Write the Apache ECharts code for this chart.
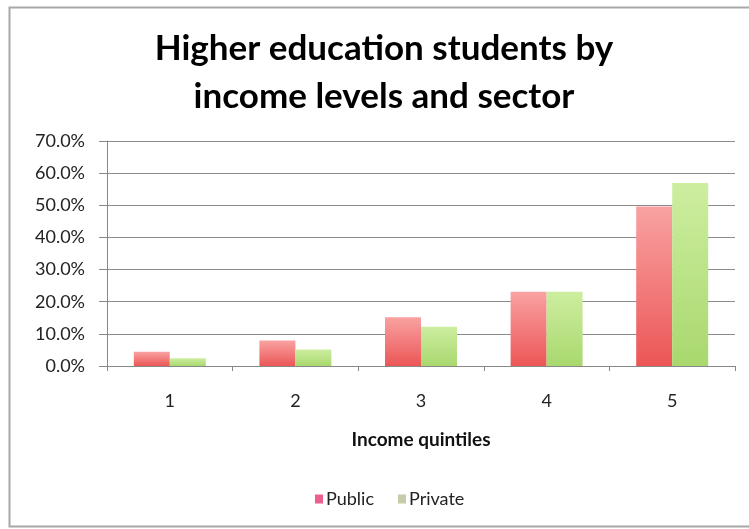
<!DOCTYPE html>
<html>
<head>
<meta charset="utf-8">
<script src="https://cdn.jsdelivr.net/npm/echarts@6/dist/echarts.min.js"></script>
<style>html,body{margin:0;padding:0;background:#fff}#c{width:749px;height:529px}</style>
</head>
<body>
<div id="c"></div>
<script>
const titleText = 'Higher education students by\nincome levels and sector';
const categories = ['1', '2', '3', '4', '5'];
const publicValues = [4.4, 7.9, 15.2, 23.1, 49.6];
const privateValues = [2.4, 5.1, 12.2, 23.1, 56.9];
const yTicks = [0, 10, 20, 30, 40, 50, 60, 70];
const xAxisName = 'Income quintiles';
const seriesNames = ['Public', 'Private'];

const FONT = 'Lato, "Open Sans", sans-serif';
const chart = echarts.init(document.getElementById('c'), null, {renderer: 'canvas'});

function grad(top, bottom) {
  return new echarts.graphic.LinearGradient(0, 0, 0, 1, [
    {offset: 0, color: top}, {offset: 1, color: bottom}
  ]);
}

chart.setOption({
  animation: false,
  backgroundColor: '#fff',
  title: {
    text: titleText,
    left: 384,
    textAlign: 'center',
    top: 25,
    padding: 0,
    textStyle: {fontFamily: FONT, fontWeight: 'bold', fontSize: 35, lineHeight: 48, color: '#000'}
  },
  graphic: [{
    type: 'rect', silent: true,
    shape: {x: 9.5, y: 7.5, width: 760, height: 519},
    style: {fill: 'none', stroke: '#a8a8a8', lineWidth: 2}
  }],
  legend: {
    data: [
      {name: seriesNames[0], itemStyle: {color: '#ec5f8c'}},
      {name: seriesNames[1], itemStyle: {color: '#c6ccaa'}}
    ],
    left: 315,
    top: 490,
    padding: 0,
    itemWidth: 8, itemHeight: 9, itemGap: 24,
    icon: 'rect',
    textStyle: {fontFamily: FONT, fontSize: 18, color: '#222', padding: [0, 0, 0, -2]}
  },
  grid: {left: 107, right: 14, top: 141, height: 225},
  xAxis: {
    type: 'category',
    data: categories,
    name: xAxisName,
    nameLocation: 'middle',
    nameGap: 64,
    nameTextStyle: {fontFamily: FONT, fontWeight: 'bold', fontSize: 19, color: '#111'},
    axisLine: {lineStyle: {color: '#888', width: 1}},
    axisTick: {show: true, length: 5, lineStyle: {color: '#888'}},
    axisLabel: {fontFamily: FONT, fontSize: 18, color: '#222', margin: 26}
  },
  yAxis: {
    type: 'value',
    min: yTicks[0], max: yTicks[yTicks.length - 1], interval: 10,
    axisLine: {show: true, lineStyle: {color: '#888', width: 1}},
    axisTick: {show: true, length: 8, lineStyle: {color: '#888'}},
    splitLine: {lineStyle: {color: '#8a8a8a', width: 1.2}},
    axisLabel: {fontFamily: FONT, fontSize: 18, color: '#222', margin: 22,
      formatter: v => v.toFixed(1) + '%'}
  },
  series: [
    {name: seriesNames[0], type: 'bar', data: publicValues, barWidth: 36, barGap: '0%',
     itemStyle: {color: grad('#f9a2a2', '#ec5656')}},
    {name: seriesNames[1], type: 'bar', data: privateValues, barWidth: 36,
     itemStyle: {color: grad('#cdeea0', '#a9d86e')}}
  ]
});
</script>
</body>
</html>
